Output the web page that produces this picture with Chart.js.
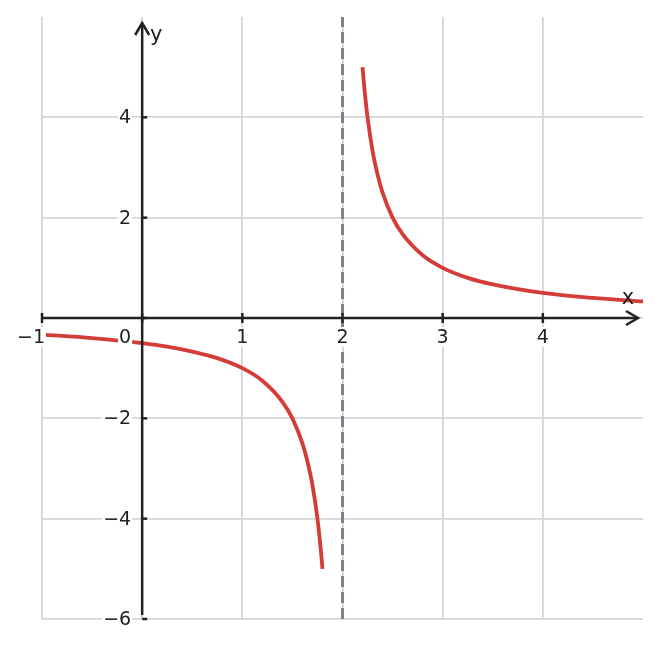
<!DOCTYPE html>
<html>
<head>
<meta charset="utf-8">
<title>y = 1/(x-2)</title>
<script src="https://cdn.jsdelivr.net/npm/chart.js@4/dist/chart.umd.min.js"></script>
<style>
    html, body { margin: 0; padding: 0; background: #fff; }
    #wrap { width: 661px; height: 648px; }
</style>
</head>
<body>
<div id="wrap"><canvas id="plot"></canvas></div>
<script>
// curve values, left and right of the asymptote
const leftX = [-1, -0.5, 0, 0.25, 0.5, 0.75, 1, 1.2, 1.4, 1.5, 1.6, 1.65, 1.7, 1.75, 1.78, 1.8];
const leftY = [-0.33, -0.4, -0.5, -0.57, -0.67, -0.8, -1.0, -1.25, -1.67, -2.0, -2.5, -2.86, -3.33, -4.0, -4.55, -5.0];
const rightX = [2.2, 2.22, 2.25, 2.3, 2.35, 2.4, 2.5, 2.6, 2.8, 3, 3.25, 3.5, 4, 4.5, 5];
const rightY = [5.0, 4.55, 4.0, 3.33, 2.86, 2.5, 2.0, 1.67, 1.25, 1.0, 0.8, 0.67, 0.5, 0.4, 0.33];

// vertical asymptote x = 2
const asymX = [2, 2];
const asymY = [-6, 6];

const xTicks = [-1, 0, 1, 2, 3, 4];
const xTickLabels = ['\u22121', '0', '1', '2', '3', '4'];
const yTicks = [-6, -4, -2, 0, 2, 4];
const yTickLabels = ['\u22126', '\u22124', '\u22122', '', '2', '4'];

const FONT = '"DejaVu Sans", sans-serif';
const INK = '#222222';

function toPoints(xs, ys) {
    return xs.map((x, i) => ({ x: x, y: ys[i] }));
}

function labelBox(ctx, text, x, y, align) {
    ctx.font = '19px ' + FONT;
    const w = ctx.measureText(text).width;
    let left = x;
    if (align === 'center') left = x - w / 2;
    if (align === 'right') left = x - w;
    ctx.fillStyle = '#ffffff';
    ctx.fillRect(left - 1, y - 10, w + 2, 20);
    ctx.fillStyle = INK;
    ctx.textAlign = 'left';
    ctx.textBaseline = 'middle';
    ctx.fillText(text, left, y + 1);
}

// axes through the origin, with arrow heads, ticks and labels
const centerAxes = {
    id: 'centerAxes',
    afterDraw(chart) {
        const ctx = chart.ctx;
        const xs = chart.scales.x;
        const ys = chart.scales.y;
        const ox = xs.getPixelForValue(0);
        const oy = ys.getPixelForValue(0);
        const area = chart.chartArea;

        ctx.save();
        ctx.strokeStyle = INK;
        ctx.lineWidth = 2.5;
        ctx.lineCap = 'butt';

        // x axis
        ctx.beginPath();
        ctx.moveTo(area.left, oy);
        ctx.lineTo(area.right - 6, oy);
        ctx.stroke();
        // y axis
        ctx.beginPath();
        ctx.moveTo(ox, area.bottom - 4);
        ctx.lineTo(ox, area.top + 7);
        ctx.stroke();

        // arrow heads
        ctx.lineJoin = 'miter';
        ctx.beginPath();
        ctx.moveTo(area.right - 17, oy - 7);
        ctx.lineTo(area.right - 5, oy);
        ctx.lineTo(area.right - 17, oy + 7);
        ctx.stroke();
        ctx.beginPath();
        ctx.moveTo(ox - 7, area.top + 18);
        ctx.lineTo(ox, area.top + 6);
        ctx.lineTo(ox + 7, area.top + 18);
        ctx.stroke();

        // ticks
        xTicks.forEach(v => {
            const px = xs.getPixelForValue(v);
            ctx.beginPath();
            ctx.moveTo(px, oy - 5);
            ctx.lineTo(px, oy + 5);
            ctx.stroke();
        });
        yTicks.forEach(v => {
            const py = ys.getPixelForValue(v);
            ctx.beginPath();
            ctx.moveTo(ox, py);
            ctx.lineTo(ox + 5, py);
            ctx.stroke();
        });

        // tick labels
        xTicks.forEach((v, i) => {
            const px = xs.getPixelForValue(v);
            if (v === 0) {
                labelBox(ctx, xTickLabels[i], ox - 11, oy + 19, 'right');
            } else if (v === -1) {
                labelBox(ctx, xTickLabels[i], px + 3, oy + 19, 'right');
            } else {
                labelBox(ctx, xTickLabels[i], px, oy + 19, 'center');
            }
        });
        yTicks.forEach((v, i) => {
            if (!yTickLabels[i]) return;
            labelBox(ctx, yTickLabels[i], ox - 11, ys.getPixelForValue(v), 'right');
        });

        // axis names
        ctx.font = '21px ' + FONT;
        ctx.fillStyle = INK;
        ctx.textAlign = 'center';
        ctx.textBaseline = 'middle';
        ctx.fillText('x', area.right - 15, oy - 19);
        ctx.fillText('y', ox + 14, area.top + 19);
        ctx.restore();
    }
};

new Chart(document.getElementById('plot'), {
    type: 'scatter',
    data: {
        datasets: [
            {
                data: toPoints(leftX, leftY),
                showLine: true,
                borderColor: '#d43c38',
                borderWidth: 3.8,
                pointRadius: 0,
                cubicInterpolationMode: 'monotone',
                order: 1
            },
            {
                data: toPoints(rightX, rightY),
                showLine: true,
                borderColor: '#d43c38',
                borderWidth: 3.8,
                pointRadius: 0,
                cubicInterpolationMode: 'monotone',
                order: 1
            },
            {
                data: toPoints(asymX, asymY),
                showLine: true,
                borderColor: '#737e88',
                borderWidth: 2.8,
                borderDash: [11, 5],
                pointRadius: 0,
                order: 2
            }
        ]
    },
    options: {
        responsive: true,
        maintainAspectRatio: false,
        animation: false,
        layout: { padding: { left: 42, right: 18, top: 17, bottom: 29 } },
        plugins: {
            legend: { display: false },
            tooltip: { enabled: false }
        },
        scales: {
            x: {
                type: 'linear',
                min: -1,
                max: 5,
                ticks: { stepSize: 1, display: false },
                border: { display: false },
                grid: {
                    drawTicks: false,
                    lineWidth: 1.8,
                    color: c => (c.tick && c.tick.value === 5) ? 'rgba(0,0,0,0)' : '#d5d5d5'
                }
            },
            y: {
                type: 'linear',
                min: -6,
                max: 6,
                ticks: { stepSize: 2, display: false },
                border: { display: false },
                grid: {
                    drawTicks: false,
                    lineWidth: 1.8,
                    color: c => (c.tick && c.tick.value === 6) ? 'rgba(0,0,0,0)' : '#d5d5d5'
                }
            }
        }
    },
    plugins: [centerAxes]
});
</script>
</body>
</html>
